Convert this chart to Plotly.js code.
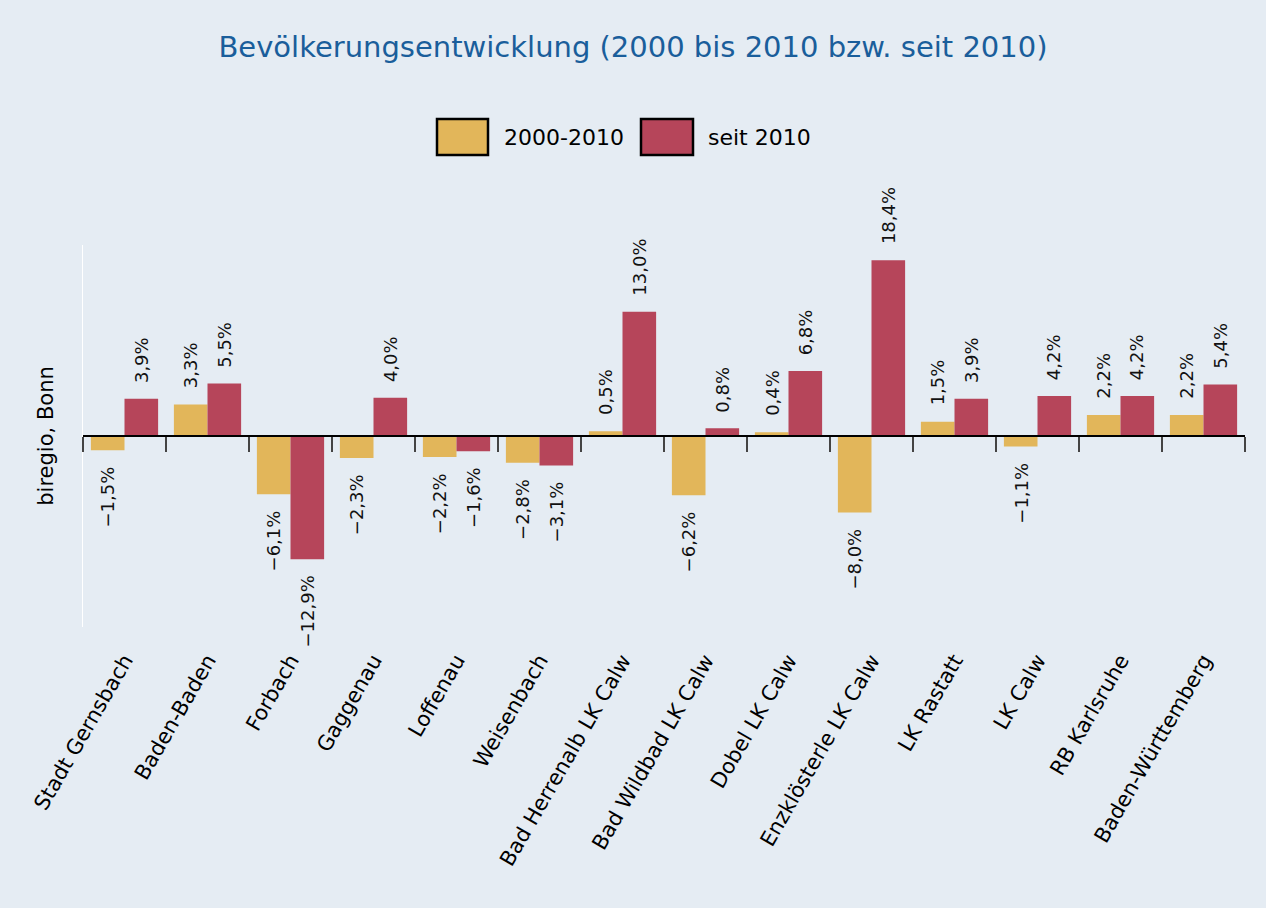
<!DOCTYPE html>
<html>
<head>
<meta charset="utf-8">
<script src="https://cdn.plot.ly/plotly-3.0.1.min.js"></script>
<style>
html,body{margin:0;padding:0;background:#e5ecf3;}
#chart{width:1266px;height:908px;}
</style>
</head>
<body>
<div id="chart"></div>
<script>
const categories = ["Stadt Gernsbach","Baden-Baden","Forbach","Gaggenau","Loffenau","Weisenbach","Bad Herrenalb LK Calw","Bad Wildbad LK Calw","Dobel LK Calw","Enzklösterle LK Calw","LK Rastatt","LK Calw","RB Karlsruhe","Baden-Württemberg"];
const seriesNames = ["2000-2010","seit 2010"];
const values2000_2010 = [-1.5, 3.3, -6.1, -2.3, -2.2, -2.8, 0.5, -6.2, 0.4, -8.0, 1.5, -1.1, 2.2, 2.2];
const valuesSeit2010 = [3.9, 5.5, -12.9, 4.0, -1.6, -3.1, 13.0, 0.8, 6.8, 18.4, 3.9, 4.2, 4.2, 5.4];
const colors = ["#e2b65a", "#b6455a"];

const W = 1266, H = 908;
const M = {l: 83, r: 21, t: 245, b: 281};
const plotW = W - M.l - M.r, plotH = H - M.t - M.b;
const bargap = 0.19;
const FONT = 'DejaVu Sans, sans-serif';
const fx = px => (px - M.l) / plotW;
const fy = py => (H - M.b - py) / plotH;

function fmt(v){
  const s = Math.abs(v).toFixed(1).replace('.', ',');
  return (v < 0 ? '\u2212' : '') + s + '%';
}

const allSeries = [values2000_2010, valuesSeit2010];
const traces = allSeries.map((vals, i) => ({
  type: 'bar', x: categories, y: vals, name: seriesNames[i],
  marker: {color: colors[i], line: {width: 0}},
  hoverinfo: 'x+y', showlegend: false
}));
// dummy trace to carry the zero-line axis
traces.push({type:'scatter', x: categories, y: categories.map(()=>null), xaxis:'x2', yaxis:'y', mode:'markers', hoverinfo:'skip', showlegend:false});

const catPx = plotW / categories.length;
const barPx = catPx * (1 - bargap) / 2;
const annotations = [];
allSeries.forEach((vals, si) => {
  const shift = (si === 0 ? -1 : 1) * barPx / 2;
  vals.forEach((v, ci) => {
    annotations.push({
      x: categories[ci], y: v, xref: 'x', yref: 'y',
      text: fmt(v), showarrow: false, textangle: -90,
      xanchor: 'center', yanchor: v >= 0 ? 'bottom' : 'top',
      xshift: shift, yshift: v >= 0 ? 14 : -14,
      font: {size: 18, color: '#111', family: FONT}
    });
  });
});

// manual legend
const legendItems = [
  {x0: 437, x1: 488, tx: 502},
  {x0: 641, x1: 693, tx: 706}
];
const shapes = [];
legendItems.forEach((it, i) => {
  shapes.push({type:'rect', xref:'paper', yref:'paper', x0: fx(it.x0), x1: fx(it.x1), y0: fy(155), y1: fy(119),
    fillcolor: colors[i], line: {color:'#000', width: 2.5}});
  annotations.push({xref:'paper', yref:'paper', x: fx(it.tx), y: fy(137), xanchor:'left', yanchor:'middle',
    text: seriesNames[i], showarrow:false, font:{size: 22, color:'#000', family: FONT}});
});

const layout = {
  width: W, height: H,
  paper_bgcolor: '#e5ecf3', plot_bgcolor: '#e5ecf3',
  margin: M,
  font: {family: FONT, color: '#000'},
  title: {text: 'Bevölkerungsentwicklung (2000 bis 2010 bzw. seit 2010)', x: 0.5, xanchor: 'center',
          y: 1 - 47/H, yanchor: 'middle', yref: 'container',
          font: {size: 29, color: '#1a5e9b', family: FONT}},
  barmode: 'group', bargap: bargap, bargroupgap: 0,
  xaxis: {type: 'category', range: [-0.5, categories.length - 0.5], showline: false, ticks: '',
          showgrid: false, zeroline: false, tickangle: -60, ticklabelstandoff: 16,
          tickfont: {size: 21, color: '#000', family: FONT}, automargin: false},
  xaxis2: {type: 'category', overlaying: 'x', anchor: 'free', position: 0.5, side: 'bottom',
           range: [-0.5, categories.length - 0.5], showline: true, linecolor: '#000', linewidth: 2,
           ticks: 'outside', tickson: 'boundaries', ticklen: 15, tickwidth: 2, tickcolor: '#444',
           showticklabels: false, showgrid: false, zeroline: false, automargin: false},
  yaxis: {range: [-20, 20], showticklabels: false, ticks: '', showgrid: false, zeroline: false,
          showline: true, linecolor: '#ffffff', linewidth: 1, automargin: false,
          title: {text: 'biregio, Bonn', standoff: 22, font: {size: 21, color: '#000', family: FONT}}},
  annotations: annotations,
  shapes: shapes
};

Plotly.newPlot('chart', traces, layout, {displayModeBar: false, staticPlot: true});
</script>
</body>
</html>
